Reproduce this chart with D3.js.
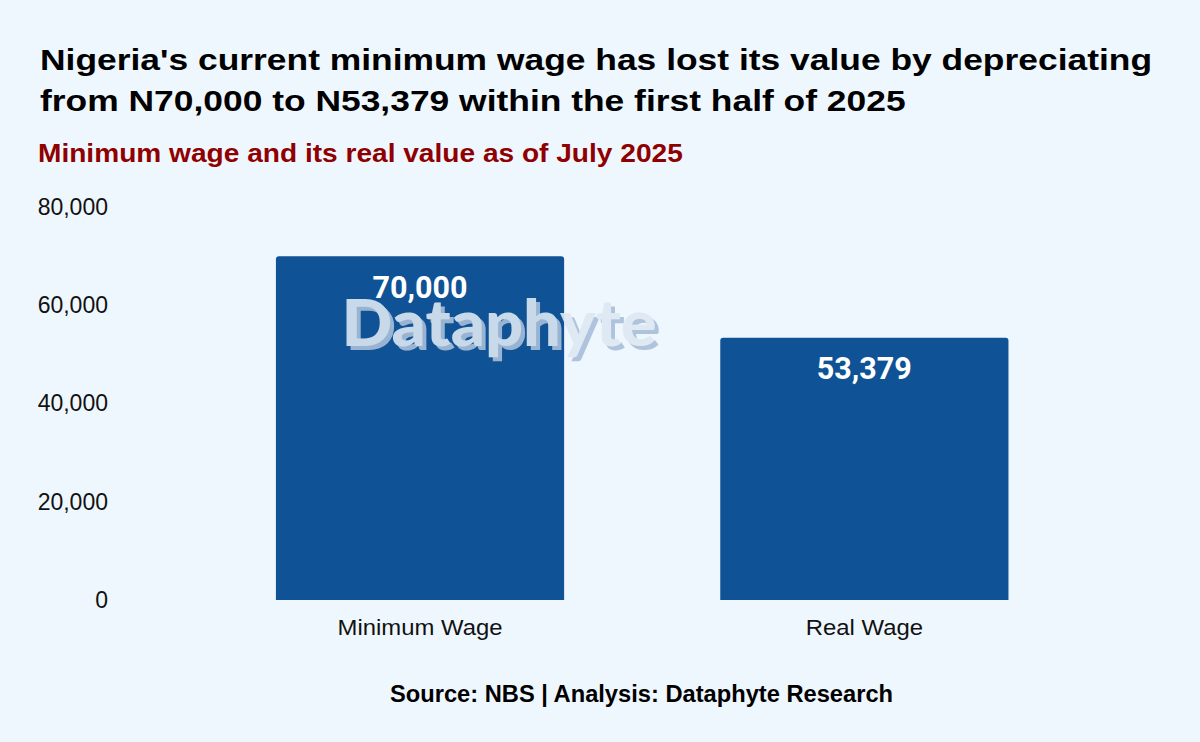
<!DOCTYPE html>
<html><head><meta charset="utf-8">
<script src="https://cdn.jsdelivr.net/npm/d3@7"></script>
<style>
html,body{margin:0;padding:0;background:#eff7fe;}
svg{display:block;font-family:"Liberation Sans",Arial,sans-serif;}
</style></head>
<body>
<svg id="chart" width="1200" height="742"></svg>
<script>
const categories = ["Minimum Wage", "Real Wage"];
const values = [70000, 53379];
const yTicks = [0, 20000, 40000, 60000, 80000];
const titleLines = ["Nigeria's current minimum wage has lost its value by depreciating", "from N70,000 to N53,379 within the first half of 2025"];
const subtitle = "Minimum wage and its real value as of July 2025";
const source = "Source: NBS | Analysis: Dataphyte Research";

// widen a text horizontally by a factor (the reference font renders wider)
function stretch(sel, f){
  sel.each(function(){
    const len = this.getComputedTextLength();
    d3.select(this).attr("textLength", len*f).attr("lengthAdjust","spacingAndGlyphs");
  });
}

const svg = d3.select("#chart");
svg.append("rect").attr("width",1200).attr("height",742).attr("fill","#eff7fe");

const t = svg.selectAll("text.title").data(titleLines).enter().append("text")
  .attr("class","title").attr("x",40).attr("y",(d,i)=>70+i*41)
  .attr("font-size",30).attr("font-weight","bold").attr("fill","#000").text(d=>d);
stretch(t, 1.18);
const st = svg.append("text").attr("x",38).attr("y",162).attr("font-size",26.5).attr("font-weight","bold")
  .attr("fill","#8f0000").text(subtitle);
stretch(st, 1.06);

const y = d3.scaleLinear().domain([0,80000]).range([600,207]);
const x = d3.scaleBand().domain(categories).range([120.4,1164]).paddingInner(0.3514).paddingOuter(0.35);

const yAxis = svg.append("g").attr("transform","translate(108,0)")
  .call(d3.axisLeft(y).tickValues(yTicks).tickFormat(d3.format(",")).tickSize(0).tickPadding(0));
yAxis.select(".domain").remove();
yAxis.selectAll("text").attr("font-size",23).attr("fill","#111").attr("font-family","Liberation Sans, Arial, sans-serif");

svg.selectAll("path.bar").data(values).enter().append("path").attr("class","bar")
  .attr("fill","#0f5295")
  .attr("d",(d,i)=>{
    const x0=x(categories[i]), w=x.bandwidth(), y0=y(d), y1=y(0), r=3;
    return `M${x0},${y1}V${y0+r}Q${x0},${y0} ${x0+r},${y0}H${x0+w-r}Q${x0+w},${y0} ${x0+w},${y0+r}V${y1}Z`;
  });

const xAxis = svg.append("g").attr("transform","translate(0,600)")
  .call(d3.axisBottom(x).tickSize(0).tickPadding(19));
xAxis.select(".domain").remove();
xAxis.selectAll("text").attr("font-size",22).attr("fill","#111").attr("font-family","Liberation Sans, Arial, sans-serif");
stretch(xAxis.selectAll("text"), 1.085);

// watermark
const wm = svg.append("g").attr("opacity",0.9);
const wm1 = wm.append("text").attr("x",503).attr("y",350).attr("text-anchor","middle")
  .attr("font-family","Lato, 'Noto Sans', sans-serif").attr("font-weight","900").attr("font-size",64)
  .attr("fill","#a9bfd9").text("Dataphyte");
const wm2 = wm.append("text").attr("x",499).attr("y",346).attr("text-anchor","middle")
  .attr("font-family","Lato, 'Noto Sans', sans-serif").attr("font-weight","900").attr("font-size",64)
  .attr("fill","#dde8f3").text("Dataphyte");
[wm1,wm2].forEach(s=>s.attr("textLength",315).attr("lengthAdjust","spacingAndGlyphs"));

svg.selectAll("text.val").data(values).enter().append("text").attr("class","val")
  .attr("x",(d,i)=>x(categories[i])+x.bandwidth()/2).attr("y",d=>y(d)+41.5)
  .attr("text-anchor","middle").attr("font-family","Roboto, sans-serif").attr("font-weight","bold")
  .attr("font-size",30.5).attr("fill","#fff").text(d=>d3.format(",")(d));

const src = svg.append("text").attr("x",641.5).attr("y",702).attr("text-anchor","middle")
  .attr("font-size",23).attr("font-weight","bold").attr("fill","#000").text(source);
stretch(src, 503/ src.node().getComputedTextLength());
</script>
</body></html>
